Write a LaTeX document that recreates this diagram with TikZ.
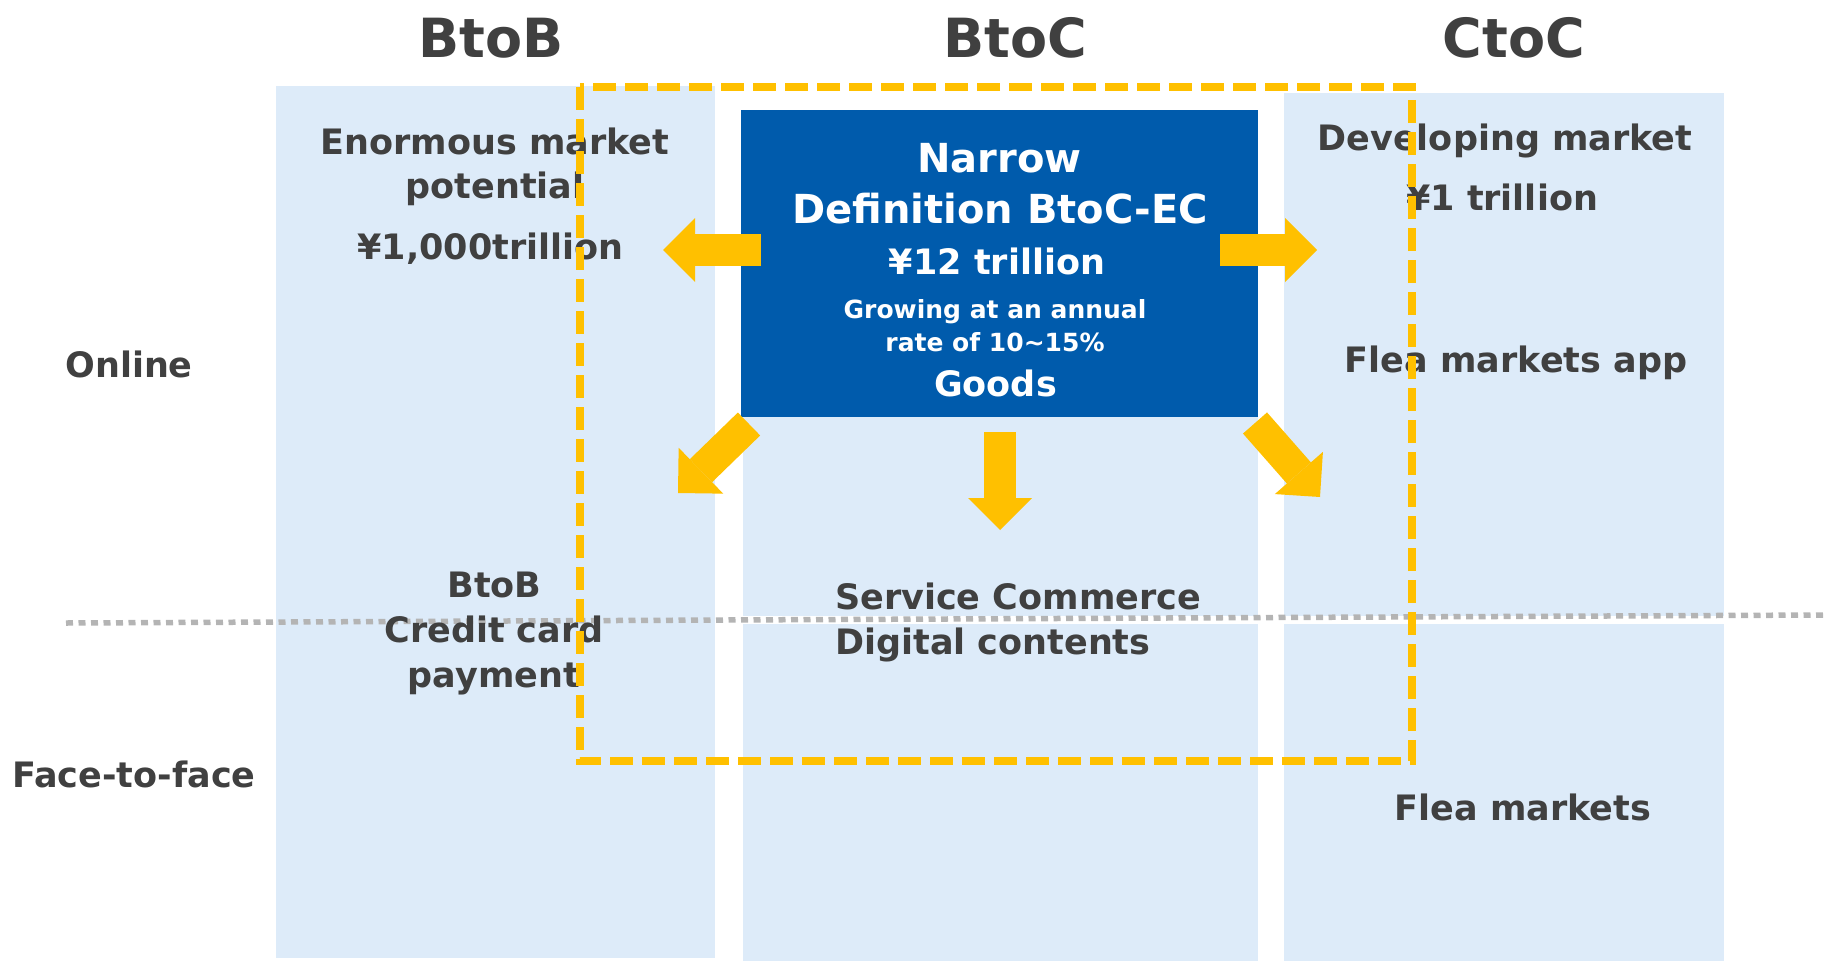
\documentclass[tikz,border=0pt]{standalone}
\usepackage{fontspec}
\setmainfont{DejaVu Sans}
\usepackage{tikz}
\usetikzlibrary{arrows.meta}

\definecolor{colfill}{HTML}{DDEBF9}
\definecolor{boxblue}{HTML}{005BAC}
\definecolor{mkorange}{HTML}{FFC000}
\definecolor{txtgray}{HTML}{404040}
\definecolor{dotgray}{HTML}{B4B4B4}

\tikzset{
	colhead/.style={font=\fontsize{54}{60}\selectfont\bfseries, text=txtgray, inner sep=0, anchor=base},
	lbl/.style={font=\fontsize{35}{42}\selectfont\bfseries, text=txtgray, inner sep=0, anchor=base},
	inbox/.style={text=white, inner sep=0, anchor=base},
	bigarrow/.style={color=mkorange, line width=32pt, -{Triangle[length=32pt,width=64pt,line width=0pt]}},
}

\begin{document}
\begin{tikzpicture}[x=1pt,y=-1pt]
		\useasboundingbox (0,0) rectangle (1825,961);
		% columns
		\fill[colfill] (276,86) rectangle (715,958);
		\fill[colfill] (743,110) rectangle (1258,616);
		\fill[colfill] (743,624) rectangle (1258,961);
		\fill[colfill] (1284,93) rectangle (1724,616);
		\fill[colfill] (1284,624) rectangle (1724,961);
		% online / face-to-face border
		\coordinate (sepl) at (66,623);
		\coordinate (sepr) at (1825,615);
		\draw[dotgray, line width=5.5pt, dash pattern=on 7pt off 5.5pt] (sepl) -- (sepr);
		%
		\node[draw=none, fill=boxblue, minimum width=517pt, minimum height=307pt, inner sep=0] (narrow) at (999.5,263.5) {};
		%
		\node[colhead] (btobhd) at (491,57) {BtoB};
		\node[colhead] (btochd) at (1015,57) {BtoC};
		\node[colhead] (ctochd) at (1514,57) {CtoC};
		\node[lbl] (online) at (129,377) {Online};
		\node[lbl] (facetoface) at (134,787) {Face-to-face};
		% BtoB
		\node[lbl] (btobpot) at (495,154) {Enormous market};
		\node[lbl] (btobpotb) at (495,198) {potential};
		\node[lbl] (btobval) at (490.5,259) {¥1,000trillion};
		\node[lbl] (btobcard) at (494.5,597) {BtoB};
		\node[lbl] (btobcardb) at (494,642) {Credit card};
		\node[lbl] (btobcardc) at (494,687) {payment};
		% BtoC
		\node[inbox, font=\fontsize{40}{46}\selectfont\bfseries] (nar) at (999.5,172) {Narrow};
		\node[inbox, font=\fontsize{40}{46}\selectfont\bfseries] (defn) at (1000,223) {Definition BtoC-EC};
		\node[inbox, font=\fontsize{35}{42}\selectfont\bfseries] (btocval) at (997,274) {¥12 trillion};
		\node[inbox, font=\fontsize{25}{30}\selectfont\bfseries] (grow) at (995,318) {Growing at an annual};
		\node[inbox, font=\fontsize{25}{30}\selectfont\bfseries] (growb) at (995,351) {rate of 10\textasciitilde15\%};
		\node[inbox, font=\fontsize{35}{42}\selectfont\bfseries] (goods) at (995.5,396) {Goods};
		\node[lbl, anchor=base west] (svc) at (835,609) {Service Commerce};
		\node[lbl, anchor=base west] (digi) at (835,654) {Digital contents};
		% CtoC
		\node[lbl] (ctocdev) at (1505,150) {Developing market};
		\node[lbl] (ctocval) at (1502,210) {¥1 trillion};
		\node[lbl] (fleaapp) at (1516,372) {Flea markets app};
		\node[lbl] (flea) at (1523,820) {Flea markets};
		%
		\coordinate (lt) at (761,250);  \coordinate (lh) at (663,250);
		\coordinate (rt) at (1220,250); \coordinate (rh) at (1317,250);
		\coordinate (dt) at (1000,432); \coordinate (dh) at (1000,530);
		\coordinate (llt) at (749,424); \coordinate (llh) at (678,493);
		\coordinate (lrt) at (1255,423); \coordinate (lrh) at (1320,497);
		\path[bigarrow]
		(lt) edge (lh)
		(rt) edge (rh)
		(dt) edge (dh)
		(llt) edge (llh)
		(lrt) edge (lrh);
		% narrow definition area
		\draw[mkorange, line width=7.5pt, dash pattern=on 23pt off 9pt] (580,87) rectangle (1412,761);
	\end{tikzpicture}
\end{document}
